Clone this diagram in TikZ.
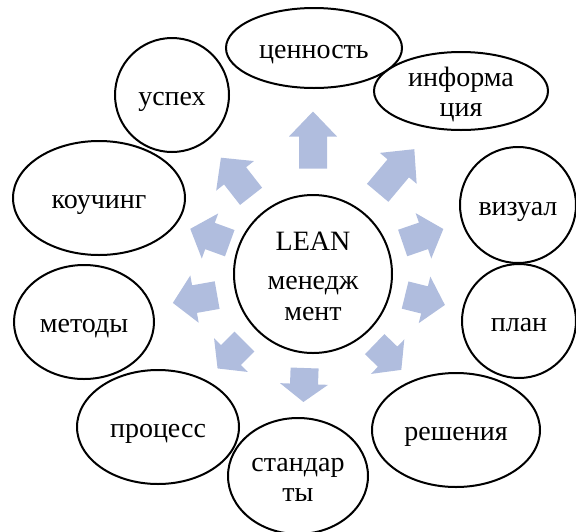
\documentclass[tikz,border=0pt]{standalone}
\usepackage{fontspec}
\setmainfont{Liberation Serif}
\usetikzlibrary{shapes.geometric}
\definecolor{arrowblue}{RGB}{176,189,222}
\tikzset{
  bubble/.style={ellipse, draw=black, line width=2pt, fill=white, inner sep=0pt,
    font=\fontsize{28}{30}\selectfont},
  oneline/.style={text height=20pt, text depth=0pt},
  lbl/.style={inner sep=0pt, align=center, font=\fontsize{28}{30}\selectfont},
  arrowfill/.style={fill=arrowblue},
}
\newcommand\blockarrow[5]{%
  \fill[arrowfill, shift={(#1,#2)}, rotate=#3]
    (-#4/2,-14) -- (#4/2-#5,-14) -- (#4/2-#5,-24) -- (#4/2,0)
    -- (#4/2-#5,24) -- (#4/2-#5,14) -- (-#4/2,14) -- cycle;}
\begin{document}
\begin{tikzpicture}[x=1pt,y=-1pt]
\useasboundingbox (0,0) rectangle (576,531);
% block arrows
\blockarrow{313}{140}{90}{57}{25}
\blockarrow{396}{171}{50}{57}{25}
\blockarrow{423}{236}{19}{43}{21}
\blockarrow{425}{300}{-14}{41}{21}
\blockarrow{388}{357}{-44}{37}{19}
\blockarrow{304}{385}{-92}{34}{18}
\blockarrow{231}{355}{-135}{38}{19}
\blockarrow{195}{299}{-170}{45}{22}
\blockarrow{210}{236}{160}{42}{21}
\blockarrow{236}{177}{128}{49}{23}
% bubbles
\node[bubble, oneline, minimum width=176, minimum height=80] (cennost) at (314,48) {ценность};
\node[bubble, minimum width=174, minimum height=78] (inform) at (461,91) {};
\node[lbl] (informtext) at (461,94) {информа\\ция};
\node[bubble, oneline, minimum width=116, minimum height=116] (vizual) at (518,205) {визуал};
\node[bubble, oneline, minimum width=114, minimum height=114] (plan) at (519,321) {план};
\node[bubble, oneline, minimum width=168, minimum height=114] (resh) at (456,430) {решения};
\node[bubble, minimum width=140, minimum height=116] (stand) at (298,476) {};
\node[lbl] (standtext) at (298,480) {стандар\\ты};
\node[bubble, oneline, minimum width=162, minimum height=114] (proc) at (158,427) {процесс};
\node[bubble, oneline, minimum width=140, minimum height=114] (metody) at (84,322) {методы};
\node[bubble, oneline, minimum width=172, minimum height=114] (kouch) at (99,198) {коучинг};
\node[bubble, oneline, minimum width=114, minimum height=114] (uspeh) at (172,95) {успех};
% centre
\node[bubble, circle, minimum size=158] (lean) at (313,274) {};
\node[lbl, font=\fontsize{28}{31}\selectfont] (leantext) at (313,276) {LEAN\\[8pt]менедж\\мент};
\end{tikzpicture}
\end{document}
